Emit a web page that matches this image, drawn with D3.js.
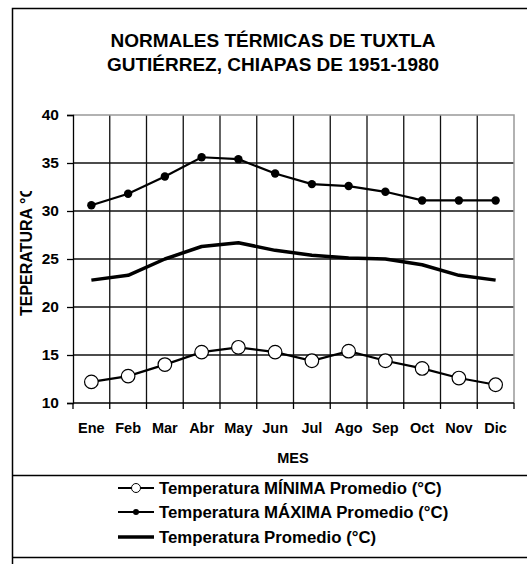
<!DOCTYPE html>
<html>
<head>
<meta charset="utf-8">
<script src="https://cdn.jsdelivr.net/npm/d3@7"></script>
<style>
  html, body { margin: 0; padding: 0; background: #fff; }
  svg { display: block; font-family: "Liberation Sans", Arial, sans-serif; }
</style>
</head>
<body>
<svg id="chart" width="527" height="564"></svg>
<script>
// Monthly climate normals, Tuxtla Gutiérrez, 1951-1980
const months = ["Ene", "Feb", "Mar", "Abr", "May", "Jun", "Jul", "Ago", "Sep", "Oct", "Nov", "Dic"];
const tempMin = [12.2, 12.8, 14.0, 15.3, 15.8, 15.3, 14.4, 15.4, 14.4, 13.6, 12.6, 11.9];
const tempMax = [30.6, 31.8, 33.6, 35.6, 35.4, 33.9, 32.8, 32.6, 32.0, 31.1, 31.1, 31.1];
const tempMean = [22.8, 23.3, 25.0, 26.3, 26.7, 25.9, 25.4, 25.1, 25.0, 24.4, 23.3, 22.8];
const yTicks = [10, 15, 20, 25, 30, 35, 40];

const titleLines = ["NORMALES TÉRMICAS DE TUXTLA", "GUTIÉRREZ, CHIAPAS DE 1951-1980"];
const legendLabels = [
  "Temperatura MÍNIMA Promedio (°C)",
  "Temperatura MÁXIMA Promedio (°C)",
  "Temperatura Promedio (°C)"
];

const svg = d3.select("#chart");
const plot = { left: 73, right: 514, top: 115, bottom: 403 };

// frame of the whole chart and the legend band
svg.append("rect")
  .attr("x", 12.5).attr("y", 8.5).attr("width", 530).attr("height", 570)
  .attr("fill", "none").attr("stroke", "#000").attr("stroke-width", 1.5);
svg.append("line").attr("x1", 12).attr("x2", 527).attr("y1", 475.5).attr("y2", 475.5)
  .attr("stroke", "#000").attr("stroke-width", 1.3);
svg.append("line").attr("x1", 12).attr("x2", 527).attr("y1", 557.5).attr("y2", 557.5)
  .attr("stroke", "#000").attr("stroke-width", 1.3);

// title
svg.append("text")
  .attr("text-anchor", "middle")
  .attr("font-weight", "bold").attr("font-size", 19)
  .selectAll("tspan").data(titleLines).join("tspan")
  .attr("x", 273).attr("y", (d, i) => 47 + i * 24)
  .text(d => d);

const x = d3.scaleBand().domain(months).range([plot.left, plot.right]);
const y = d3.scaleLinear().domain([10, 40]).range([plot.bottom, plot.top]);
const cx = m => x(m) + x.bandwidth() / 2;

// horizontal gridlines
svg.append("g").selectAll("line").data(yTicks.filter(t => t > 10 && t < 40)).join("line")
  .attr("x1", plot.left).attr("x2", plot.right)
  .attr("y1", d => y(d)).attr("y2", d => y(d))
  .attr("stroke", "#111").attr("stroke-width", 1.3);

// vertical gridlines at month boundaries
svg.append("g").selectAll("line").data(months.slice(1)).join("line")
  .attr("x1", d => x(d)).attr("x2", d => x(d))
  .attr("y1", plot.top).attr("y2", plot.bottom)
  .attr("stroke", "#111").attr("stroke-width", 1.3);

// top and right edge of plot area
svg.append("path")
  .attr("d", `M${plot.left},${plot.top}H${plot.right}V${plot.bottom}`)
  .attr("fill", "none").attr("stroke", "#999").attr("stroke-width", 1.5);

// y axis
const yAxis = svg.append("g")
  .attr("transform", `translate(${plot.left},0)`)
  .call(d3.axisLeft(y).tickValues(yTicks).tickSize(6).tickPadding(8));
yAxis.select(".domain").attr("stroke", "#000").attr("stroke-width", 1.3);
yAxis.selectAll(".tick line").attr("stroke", "#000").attr("stroke-width", 1.3);
yAxis.selectAll(".tick text")
  .attr("font-family", "Liberation Sans, Arial, sans-serif")
  .attr("font-weight", "bold").attr("font-size", 15.5).attr("fill", "#000");

// x axis: ticks at month boundaries, labels centred in bands
const xAxisG = svg.append("g").attr("transform", `translate(0,${plot.bottom})`);
xAxisG.append("line")
  .attr("x1", plot.left).attr("x2", plot.right).attr("y1", 0).attr("y2", 0)
  .attr("stroke", "#000").attr("stroke-width", 1.3);
xAxisG.selectAll("line.tk").data(months.concat(["end"])).join("line").attr("class", "tk")
  .attr("x1", (d, i) => i < months.length ? x(d) : plot.right)
  .attr("x2", (d, i) => i < months.length ? x(d) : plot.right)
  .attr("y1", 0).attr("y2", 6)
  .attr("stroke", "#000").attr("stroke-width", 1.3);
xAxisG.selectAll("text").data(months).join("text")
  .attr("x", d => cx(d)).attr("y", 30)
  .attr("text-anchor", "middle")
  .attr("font-weight", "bold").attr("font-size", 14.5)
  .text(d => d);

// axis titles
svg.append("text")
  .attr("x", 293).attr("y", 463)
  .attr("text-anchor", "middle")
  .attr("font-weight", "bold").attr("font-size", 14.5)
  .text("MES");

svg.append("clipPath").attr("id", "ylabClip")
  .append("rect").attr("x", 0).attr("y", 191).attr("width", 60).attr("height", 200);
svg.append("g").attr("clip-path", "url(#ylabClip)")
  .append("text")
  .attr("transform", "translate(32,316) rotate(-90)")
  .attr("font-weight", "bold").attr("font-size", 16)
  .text("TEPERATURA °C");

// series
const lineGen = d3.line().x((d, i) => cx(months[i])).y(d => y(d));

svg.append("path").datum(tempMean)
  .attr("d", lineGen).attr("fill", "none")
  .attr("stroke", "#000").attr("stroke-width", 3.5).attr("stroke-linejoin", "round");

svg.append("path").datum(tempMax)
  .attr("d", lineGen).attr("fill", "none")
  .attr("stroke", "#000").attr("stroke-width", 2.2);
svg.append("g").selectAll("circle").data(tempMax).join("circle")
  .attr("cx", (d, i) => cx(months[i])).attr("cy", d => y(d))
  .attr("r", 4.2).attr("fill", "#000");

svg.append("path").datum(tempMin)
  .attr("d", lineGen).attr("fill", "none")
  .attr("stroke", "#000").attr("stroke-width", 2.2);
svg.append("g").selectAll("circle").data(tempMin).join("circle")
  .attr("cx", (d, i) => cx(months[i])).attr("cy", d => y(d))
  .attr("r", 6.8).attr("fill", "#fff").attr("stroke", "#000").attr("stroke-width", 1.2);

// legend
const legendY = [488, 512, 537];
const leg = svg.append("g");
legendLabels.forEach((lab, i) => {
  const ly = legendY[i];
  leg.append("line").attr("x1", 118).attr("x2", 154).attr("y1", ly).attr("y2", ly)
    .attr("stroke", "#000").attr("stroke-width", i === 2 ? 3.5 : 2);
  if (i === 0) {
    leg.append("circle").attr("cx", 136).attr("cy", ly).attr("r", 4.5)
      .attr("fill", "#fff").attr("stroke", "#000").attr("stroke-width", 1);
  } else if (i === 1) {
    leg.append("circle").attr("cx", 136).attr("cy", ly).attr("r", 3).attr("fill", "#000");
  }
  leg.append("text").attr("x", 159).attr("y", ly + 6)
    .attr("font-weight", "bold").attr("font-size", 16.8)
    .text(lab);
});
</script>
</body>
</html>
